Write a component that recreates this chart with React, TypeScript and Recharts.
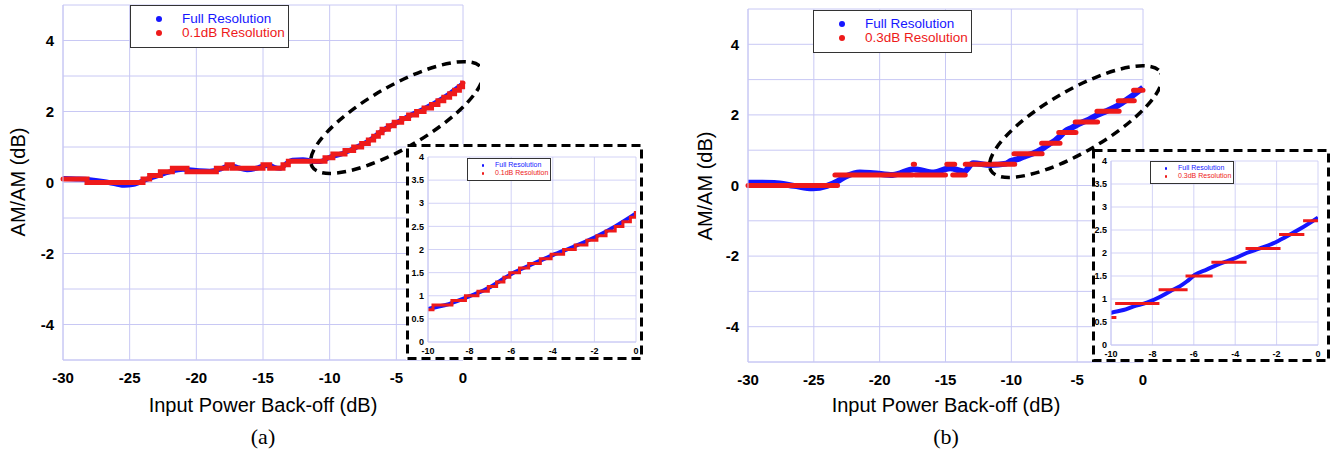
import { CartesianGrid, Legend, Line, LineChart, ReferenceDot, XAxis, YAxis } from "recharts";

const BLUE = "#1616ff";
const RED = "#ee1a1a";
const GRID = "#c8c8f4";
const SANS = "'Liberation Sans', Arial, sans-serif";
const SERIF = "'Liberation Serif', 'Times New Roman', serif";

const MAIN_X_TICKS = [-30, -25, -20, -15, -10, -5, 0];
const MAIN_Y_TICKS = [-5, -4, -3, -2, -1, 0, 1, 2, 3, 4, 5];
const INSET_X_TICKS = [-10, -8, -6, -4, -2, 0];
const INSET_Y_TICKS = [0, 0.5, 1, 1.5, 2, 2.5, 3, 3.5, 4];

// (a) full resolution curve
const BLUE_A_X = [-30, -29, -28, -27, -26, -25.4, -24.8, -24.3, -23.8, -23, -22, -21, -20, -19, -18.2, -17.5, -16.9, -16.2, -15.5, -14.9,
  -14.5, -14.1, -13.7, -13.2, -12.8, -12, -11.3, -10.7, -10, -9, -8, -7, -6.5, -6, -5, -4, -3, -2, -1, 0];
const BLUE_A_Y = [0.11, 0.1, 0.08, 0.03, -0.04, -0.08, -0.06, 0, 0.08, 0.18, 0.3, 0.37, 0.34, 0.32, 0.38, 0.48, 0.42, 0.36, 0.4, 0.47,
  0.48, 0.42, 0.4, 0.55, 0.63, 0.64, 0.6, 0.59, 0.71, 0.82, 0.99, 1.19, 1.33, 1.47, 1.68, 1.88, 2.06, 2.26, 2.5, 2.78];

// (a) 0.1dB resolution: level starts
const RED_A_X = [-30, -28.2, -24, -23.5, -22.7, -21.8, -20.7, -18.5, -17.7, -17.3, -15, -14.5, -13.5, -13.1, -10.35, -9.76, -8.85, -8.2,
  -7.6, -7.1, -6.7, -6.35, -6.07, -5.6, -5.16, -4.6, -4.08, -3.48, -2.92, -2.36, -1.88, -1.44, -1, -0.63, -0.27, -0.03];
const RED_A_Y = [0.1, 0, 0.1, 0.2, 0.3, 0.4, 0.3, 0.4, 0.5, 0.4, 0.5, 0.4, 0.5, 0.6, 0.7, 0.8, 0.9, 1, 1.1, 1.2, 1.3, 1.4, 1.5, 1.6, 1.7,
  1.8, 1.9, 2, 2.1, 2.2, 2.3, 2.4, 2.5, 2.6, 2.7, 2.8];

// (b) full resolution curve
const BLUE_B_X = [-30, -28, -26.5, -25.1, -24, -23.25, -22.5, -21.5, -20.5, -19, -17.4, -15.9, -14.65, -13.6, -12.9, -11.6, -10.4, -10,
  -9.4, -8.9, -8.27, -7.62, -7.14, -6.66, -6.34, -5.94, -5.38, -4.73, -4.09, -3.45, -2.81, -2.17, -1.52, -0.88, 0];
const BLUE_B_Y = [0.08, 0.07, -0.01, -0.08, -0.01, 0.11, 0.27, 0.37, 0.35, 0.3, 0.46, 0.37, 0.49, 0.4, 0.63, 0.58, 0.62, 0.7, 0.76, 0.84,
  0.92, 1.05, 1.17, 1.28, 1.38, 1.53, 1.64, 1.77, 1.87, 2, 2.1, 2.21, 2.36, 2.52, 2.77];

// (b) 0.3dB resolution: horizontal runs
const RED_B_START = [-30, -23.4, -17.45, -17.3, -14.9, -14.45, -13.5, -9.8, -7.7, -6.4, -5.15, -3.5, -1.88, -0.72];
const RED_B_END = [-23.2, -17.5, -17.35, -15, -14.3, -13.5, -9.74, -7.66, -6.3, -5.09, -3.45, -1.81, -0.66, 0];
const RED_B_Y = [0, 0.3, 0.6, 0.3, 0.6, 0.3, 0.6, 0.9, 1.2, 1.5, 1.8, 2.1, 2.4, 2.7];

const FULL = "Full Resolution";

const toPoints = (xs: number[], ys: number[]) => xs.map((x, i) => ({ x, y: ys[i] }));
const toRuns = (starts: number[], ends: number[], levels: number[]) =>
  starts.flatMap((s, i) => [
    { x: s, y: levels[i] as number | null },
    { x: ends[i], y: levels[i] as number | null },
    { x: ends[i], y: null },
  ]);

const blueA = toPoints(BLUE_A_X, BLUE_A_Y);
const redA = [...toPoints(RED_A_X, RED_A_Y), { x: 0, y: RED_A_Y[RED_A_Y.length - 1] }];
const blueB = toPoints(BLUE_B_X, BLUE_B_Y);
const redB = toRuns(RED_B_START, RED_B_END, RED_B_Y);

function legendBox(w: number, h: number, fs: number, dotX: number, textX: number, r: number, border: number) {
  return (props: any) => {
    const items = [...(props.payload || [])].sort((a: any, b: any) => (a.value === FULL ? -1 : b.value === FULL ? 1 : 0));
    return (
      <div style={{ width: w, height: h, boxSizing: "border-box", border: `${border}px solid #333`, background: "#fff", position: "relative" }}>
        {items.map((it: any, i: number) => (
          <div key={it.value} style={{ position: "absolute", left: 0, top: (h / (items.length + 1)) * (i + 1) - fs * 0.6 - border, height: fs * 1.2, width: w }}>
            <span style={{ position: "absolute", left: dotX - r, top: fs * 0.6 - r, width: r * 2, height: r * 2, borderRadius: "50%", background: it.color }} />
            <span style={{ position: "absolute", left: textX, top: 0, fontFamily: SANS, fontSize: fs, lineHeight: `${fs * 1.2}px`, color: it.color, whiteSpace: "nowrap" }}>
              {it.value}
            </span>
          </div>
        ))}
      </div>
    );
  };
}

const ellipse = (p: any) => (
  <ellipse cx={p.cx} cy={p.cy} rx={98} ry={31} transform={`rotate(-30 ${p.cx} ${p.cy})`} fill="none" stroke="#000"
    strokeWidth={3.5} strokeDasharray="9 6" />
);

interface MainProps {
  left: number;
  top: number;
  width: number;
  height: number;
  marginTop: number;
  blue: { x: number; y: number }[];
  red: { x: number; y: number | null }[];
  stepped: boolean;
  label: string;
  blueWidth: number;
  legendLeft: number;
  legendTop: number;
  ringX: number;
  ringY: number;
}

function MainPanel(p: MainProps) {
  const tick = { fill: "#000", fontFamily: SANS, fontSize: 15, fontWeight: 700 };
  return (
    <div style={{ position: "absolute", left: p.left, top: p.top }}>
      <LineChart width={p.width} height={p.height} margin={{ top: p.marginTop, right: 17, left: 8, bottom: 0 }}>
        <CartesianGrid stroke={GRID} strokeWidth={1} />
        <XAxis type="number" dataKey="x" domain={[-30, 0]} ticks={MAIN_X_TICKS} height={35} tickLine={false} tickSize={6} tickMargin={6}
          axisLine={{ stroke: GRID }} tick={tick} />
        <YAxis type="number" dataKey="y" domain={[-5, 5]} ticks={MAIN_Y_TICKS} width={55} tickLine={false} tickSize={6} tickMargin={3}
          axisLine={{ stroke: GRID }} tickFormatter={(v: number) => (v % 2 === 0 ? String(v) : "")} tick={tick} />
        <Line data={p.blue} dataKey="y" name={FULL} type="monotone" stroke={BLUE} strokeWidth={p.blueWidth} dot={false}
          isAnimationActive={false} />
        <Line data={p.red} dataKey="y" name={p.label} type={p.stepped ? "stepAfter" : "linear"} stroke={RED} strokeWidth={5}
          strokeLinecap="round" dot={false} connectNulls={false} isAnimationActive={false} />
        <ReferenceDot x={p.ringX} y={p.ringY} ifOverflow="visible" shape={ellipse} />
        <Legend layout="vertical" align="center" verticalAlign="middle" wrapperStyle={{ left: p.legendLeft, top: p.legendTop, width: "auto", height: "auto" }}
          content={legendBox(159, 43, 13.5, 28, 51, 3.2, 1.5)} />
      </LineChart>
    </div>
  );
}

interface InsetProps {
  boxLeft: number;
  boxTop: number;
  boxW: number;
  boxH: number;
  innerLeft: number;
  width: number;
  height: number;
  margin: { top: number; right: number; left: number; bottom: number };
  blue: { x: number; y: number }[];
  red: { x: number; y: number | null }[];
  stepped: boolean;
  label: string;
  legendLeft: number;
  legendTop: number;
}

function Inset(p: InsetProps) {
  const tick = { fill: "#000", fontFamily: SANS, fontSize: 9, fontWeight: 700 };
  return (
    <div style={{ position: "absolute", left: p.boxLeft, top: p.boxTop, width: p.boxW, height: p.boxH, background: "#fff" }}>
      <div style={{ position: "absolute", left: p.innerLeft, top: 3 }}>
        <LineChart width={p.width} height={p.height} margin={p.margin}>
          <CartesianGrid stroke={GRID} strokeWidth={0.8} />
          <XAxis type="number" dataKey="x" domain={[-10, 0]} ticks={INSET_X_TICKS} allowDataOverflow height={14} tickLine={false}
            tickSize={0} tickMargin={6} axisLine={{ stroke: GRID }} tick={tick} />
          <YAxis type="number" dataKey="y" domain={[0, 4]} ticks={INSET_Y_TICKS} allowDataOverflow width={16} tickLine={false}
            tickSize={0} tickMargin={4} axisLine={{ stroke: GRID }} tick={tick} />
          <Line data={p.blue} dataKey="y" name={FULL} type="monotone" stroke={BLUE} strokeWidth={4} dot={false}
            isAnimationActive={false} />
          <Line data={p.red} dataKey="y" name={p.label} type={p.stepped ? "stepAfter" : "linear"} stroke={RED} strokeWidth={3}
            dot={false} connectNulls={false} isAnimationActive={false} />
          <Legend layout="vertical" align="center" verticalAlign="middle" wrapperStyle={{ left: p.legendLeft, top: p.legendTop, width: "auto", height: "auto" }}
            content={legendBox(84, 23, 7, 15, 27, 1.3, 1)} />
        </LineChart>
      </div>
      <svg width={p.boxW} height={p.boxH} style={{ position: "absolute", left: 0, top: 0, pointerEvents: "none" }}>
        <rect x={1.5} y={1.5} width={p.boxW - 3} height={p.boxH - 3} fill="none" stroke="#000" strokeWidth={3} strokeDasharray="9 5" />
      </svg>
    </div>
  );
}

function Txt({ x, y, size, children, rotate, serif }: { x: number; y: number; size: number; children: string; rotate?: boolean; serif?: boolean }) {
  return (
    <div style={{ position: "absolute", left: x, top: y, transform: `translate(-50%, -50%)${rotate ? " rotate(-90deg)" : ""}`,
      fontFamily: serif ? SERIF : SANS, fontSize: size, whiteSpace: "nowrap", color: "#000", lineHeight: 1 }}>
      {children}
    </div>
  );
}

export default function App() {
  return (
    <div style={{ position: "absolute", left: 0, top: 0, width: 1341, height: 457, background: "#fff", overflow: "hidden" }}>
      <MainPanel left={0} top={0} width={480} height={395} marginTop={5} blue={blueA} red={redA} stepped label="0.1dB Resolution"
        blueWidth={5} legendLeft={130} legendTop={5} ringX={-4.95} ringY={1.83} />
      <MainPanel left={685} top={0} width={475} height={397} marginTop={9} blue={blueB} red={redB} stepped={false} label="0.3dB Resolution"
        blueWidth={6} legendLeft={128} legendTop={10} ringX={-5.1} ringY={1.81} />

      <Inset boxLeft={406} boxTop={144} boxW={237} boxH={216} innerLeft={3} width={230} height={209}
        margin={{ top: 10, right: 3, left: 3, bottom: 0 }} blue={blueA} red={redA} stepped label="0.1dB Resolution"
        legendLeft={58} legendTop={11} />
      <Inset boxLeft={1092} boxTop={149} boxW={238} boxH={213} innerLeft={0} width={235} height={207}
        margin={{ top: 9, right: 9, left: 3, bottom: 0 }} blue={blueB} red={redB} stepped={false} label="0.3dB Resolution"
        legendLeft={58} legendTop={9} />

      <Txt x={18} y={182} size={20} rotate>AM/AM (dB)</Txt>
      <Txt x={705} y={186} size={20} rotate>AM/AM (dB)</Txt>
      <Txt x={263} y={405} size={20}>Input Power Back-off (dB)</Txt>
      <Txt x={946} y={405} size={20}>Input Power Back-off (dB)</Txt>
      <Txt x={263} y={437} size={22} serif>(a)</Txt>
      <Txt x={946} y={437} size={22} serif>(b)</Txt>
    </div>
  );
}
